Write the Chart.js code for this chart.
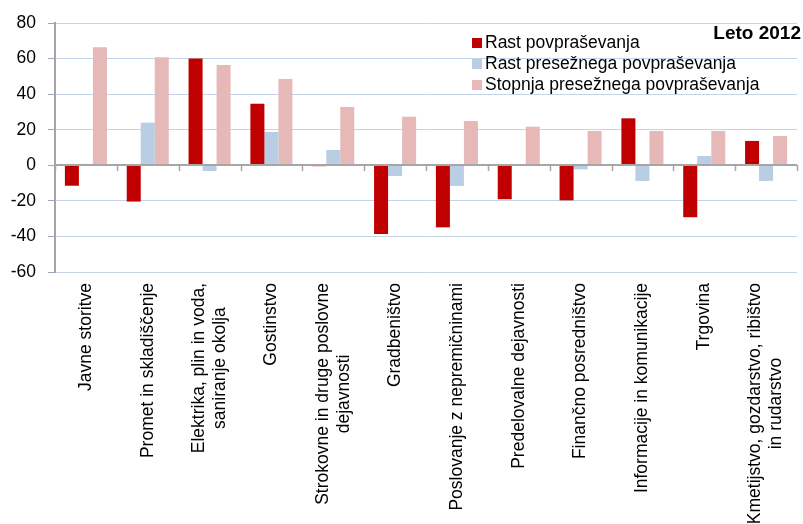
<!DOCTYPE html>
<html>
<head>
<meta charset="utf-8">
<script src="https://cdn.jsdelivr.net/npm/chart.js@4"></script>
<style>
  html, body { margin: 0; padding: 0; background: #fff; }
  #wrap { width: 803px; height: 524px; }
</style>
</head>
<body>
<div id="wrap"><canvas id="demandChart" width="803" height="524"></canvas></div>
<script>
// sectors, each label split into the lines it is printed on
var categories = [
    ['Javne storitve'],
    ['Promet in skladiščenje'],
    ['Elektrika, plin in voda,', 'saniranje okolja'],
    ['Gostinstvo'],
    ['Strokovne in druge poslovne', 'dejavnosti'],
    ['Gradbeništvo'],
    ['Poslovanje z nepremičninami'],
    ['Predelovalne dejavnosti'],
    ['Finančno posredništvo'],
    ['Informacije in komunikacije'],
    ['Trgovina'],
    ['Kmetijstvo, gozdarstvo, ribištvo', 'in rudarstvo']
];

var rastPovp = [-11.5, -20.4, 60.1, 34.6, -0.5, -38.6, -34.9, -19.1, -19.7, 26.4, -29.2, 13.7];
var rastPresezPovp = [0.8, 24.0, -3.2, 18.7, 8.6, -6.0, -11.6, 0, -2.3, -8.8, 5.2, -8.8];
var stopnjaPresezPovp = [66.3, 60.7, 56.4, 48.5, 32.8, 27.3, 24.9, 21.7, 19.3, 19.3, 19.3, 16.5];

var yTicks = [-60, -40, -20, 0, 20, 40, 60, 80];
var periodLabel = 'Leto 2012';

const FONT = '"Liberation Sans", Arial, sans-serif';
const axisGray = '#a6a6a6';

// zero line, category ticks, rotated sector names, legend and year tag
const extras = {
    id: 'extras',
    afterDatasetsDraw(chart) {
        const {ctx, chartArea} = chart;
        const x = chart.scales.x, y = chart.scales.y;
        const y0 = Math.round(y.getPixelForValue(0));
        ctx.save();
        ctx.strokeStyle = axisGray;
        ctx.lineWidth = 2;
        ctx.beginPath();
        ctx.moveTo(chartArea.left, y0);
        ctx.lineTo(chartArea.right, y0);
        ctx.stroke();
        ctx.lineWidth = 1.5;
        ctx.beginPath();
        for (let i = 0; i <= categories.length; i++) {
            let bx;
            if (i == 0) bx = chartArea.left;
            else if (i == categories.length) bx = chartArea.right - 0.5;
            else bx = (x.getPixelForValue(i - 1) + x.getPixelForValue(i)) / 2;
            bx = Math.round(bx) + 0.5;
            ctx.moveTo(bx, y0);
            ctx.lineTo(bx, y0 + 6);
        }
        ctx.stroke();
        ctx.restore();
    },
    afterDraw(chart) {
        const {ctx, chartArea} = chart;
        const x = chart.scales.x;
        ctx.save();
        ctx.fillStyle = '#000';
        ctx.font = '17.5px ' + FONT;
        ctx.textBaseline = 'middle';

        // sector names, read bottom to top, lines centred on each other
        const top = chartArea.bottom + 11;
        const lineH = 21;
        categories.forEach((lines, i) => {
            const cx = x.getPixelForValue(i);
            const maxW = Math.max(...lines.map(l => ctx.measureText(l).width));
            ctx.save();
            ctx.translate(cx, top);
            ctx.rotate(-Math.PI / 2);
            ctx.textAlign = 'center';
            lines.forEach((l, j) => {
                ctx.fillText(l, -maxW / 2, (j - (lines.length - 1) / 2) * lineH);
            });
            ctx.restore();
        });

        // legend
        const lx = 472, ly = 43, rowH = 21;
        chart.data.datasets.forEach((ds, i) => {
            const cy = ly + i * rowH;
            ctx.fillStyle = ds.backgroundColor;
            ctx.fillRect(lx, cy - 5, 10, 10);
            ctx.fillStyle = '#000';
            ctx.textAlign = 'left';
            ctx.fillText(ds.label, lx + 13, cy);
        });

        ctx.font = 'bold 19px ' + FONT;
        ctx.textAlign = 'right';
        ctx.fillText(periodLabel, 801, 34);
        ctx.restore();
    }
};

const ctx = document.getElementById('demandChart').getContext('2d');
const chart = new Chart(ctx, {
    type: 'bar',
    data: {
        labels: categories,
        datasets: [
            { label: 'Rast povpraševanja', data: rastPovp, backgroundColor: '#c00000' },
            { label: 'Rast presežnega povpraševanja', data: rastPresezPovp, backgroundColor: '#b9cde5' },
            { label: 'Stopnja presežnega povpraševanja', data: stopnjaPresezPovp, backgroundColor: '#e6b9b8' }
        ]
    },
    options: {
        responsive: false,
        animation: false,
        layout: { padding: { top: 23, right: 6, left: 0, bottom: 0 } },
        datasets: {
            bar: { categoryPercentage: 0.68, barPercentage: 1.0, borderWidth: 0 }
        },
        plugins: {
            legend: { display: false },
            tooltip: { enabled: false }
        },
        scales: {
            x: {
                grid: { display: false },
                border: { display: false },
                ticks: { display: false },
                afterFit: (scale) => { scale.height = 252; }
            },
            y: {
                min: -60,
                max: 80,
                afterBuildTicks: (scale) => {
                    scale.ticks = yTicks.map(v => ({ value: v }));
                },
                afterFit: (scale) => { scale.width = 55; },
                grid: {
                    color: (c) => c.tick && c.tick.value === 0 ? 'rgba(0,0,0,0)' : '#c3d3ea',
                    lineWidth: 1,
                    tickColor: axisGray,
                    tickLength: 7
                },
                border: { color: axisGray, width: 2 },
                ticks: {
                    padding: 12,
                    color: '#000',
                    font: { family: FONT, size: 17.5 }
                }
            }
        }
    },
    plugins: [extras]
});
</script>
</body>
</html>
